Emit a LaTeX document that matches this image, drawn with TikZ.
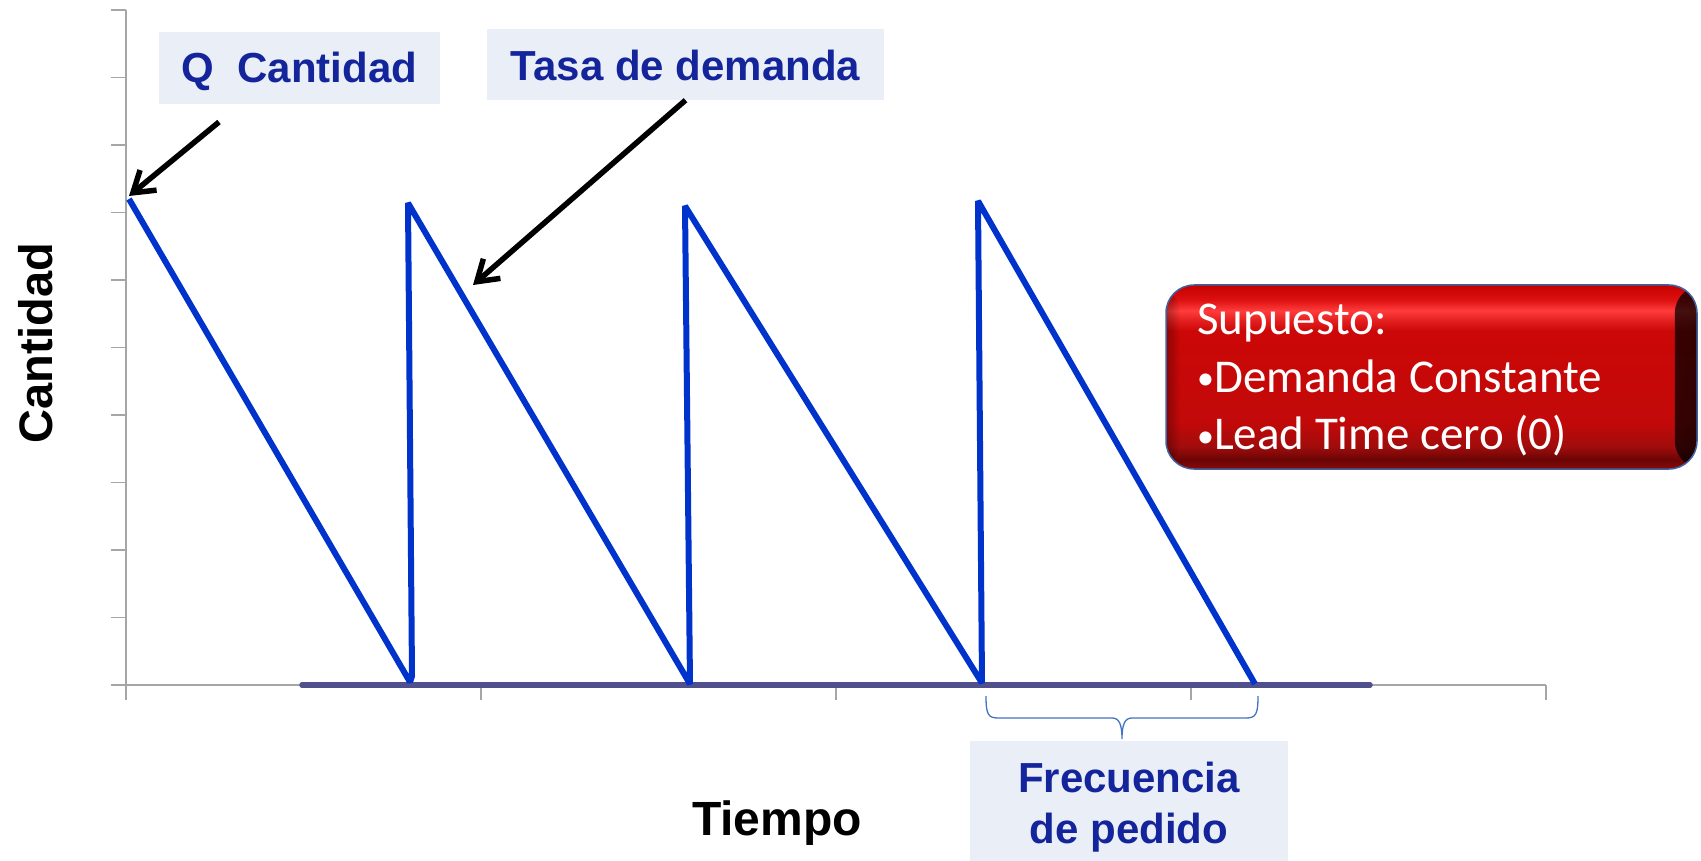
\documentclass[tikz,border=0pt]{standalone}
\usepackage{fontspec}
\newfontfamily\lsans{Liberation Sans}
\newfontfamily\carl{Carlito}
\usetikzlibrary{arrows.meta,fadings}
\definecolor{lblue}{HTML}{14249A}
\definecolor{lfill}{HTML}{E9EEF7}
\definecolor{saw}{HTML}{0033CC}
\definecolor{axisgray}{HTML}{A6A6A6}
\definecolor{baseln}{HTML}{50508C}
\definecolor{bracecol}{HTML}{4472C4}
\definecolor{boxborder}{HTML}{3F63A0}
\definecolor{rbA}{HTML}{8A0A0A}
\definecolor{rbB}{HTML}{6A0505}
\definecolor{rbC}{HTML}{A00C0C}
\definecolor{rbD}{HTML}{C20909}
\definecolor{rbE}{HTML}{CC0707}
\definecolor{rbF}{HTML}{E52020}
\definecolor{rbG}{HTML}{FF3C3C}
\definecolor{rbH}{HTML}{DD1010}
\definecolor{rbI}{HTML}{C40000}
\pgfdeclareverticalshading{redbevel}{100bp}{color(0bp)=(rbA); color(25bp)=(rbA); color(27.5bp)=(rbB); color(31bp)=(rbC); color(37.5bp)=(rbD); color(62.5bp)=(rbE); color(65.5bp)=(rbF); color(68bp)=(rbG); color(71bp)=(rbH); color(75bp)=(rbI); color(100bp)=(rbI)}
\tikzfading[name=fadeleft, left color=transparent!100, right color=transparent!0]
\tikzfading[name=faderight, left color=transparent!0, right color=transparent!100]
\newcommand{\smbul}{\raisebox{2.5pt}{\fontsize{34}{40}\selectfont •}}
\begin{document}
\begin{tikzpicture}[x=1pt,y=-1pt,
  axis/.style={draw=axisgray, line width=1.5pt},
  lblbox/.style={fill=lfill, inner sep=0pt, text=lblue, font=\lsans\bfseries\fontsize{42}{51}\selectfont, text depth=0pt},
  lbltext/.style={inner sep=0pt, text=lblue, font=\lsans\bfseries\fontsize{42}{51}\selectfont, align=center},
  arr/.style={-{Straight Barb[length=20pt,width=26pt]}, line width=5.5pt, black},
  sawline/.style={draw=saw, line width=6pt, line join=bevel},
  axlabel/.style={inner sep=0pt, text=black, font=\lsans\bfseries}
]
\useasboundingbox (0,0) rectangle (1701,861);

% axes
\draw[axis] (126,10) -- (126,700);
\foreach \k in {0,...,9} { \draw[axis] (111,10+67.5*\k) -- (126,10+67.5*\k); }
\draw[axis] (111,685) -- (1546,685);
\foreach \xx in {126,481,836,1191,1546} { \draw[axis] (\xx,685) -- (\xx,700); }
\draw[baseln, line width=5.5pt, line cap=round] (302,685) -- (1370,685);

% sawtooth
\coordinate (p1) at (129,199);
\coordinate (b1) at (410,682);
\coordinate (b1v) at (412,676);
\coordinate (p2) at (408,203);
\coordinate (b2) at (690,684);
\coordinate (p3) at (685,206);
\coordinate (b3) at (982,683);
\coordinate (p4) at (978,201);
\coordinate (b4) at (1255,684);
\draw[sawline] (p1) -- (b1) -- (b1v) -- (p2) -- (b2) -- (p3) -- (b3) -- (p4) -- (b4);

% labels
\node[lblbox, minimum width=281pt, minimum height=72pt, text height=30pt] (qlab) at (299.5,68) {Q\ \ Cantidad};
\node[lblbox, minimum width=397pt, minimum height=71pt, text height=33pt] (tasa) at (685.5,64.5) {Tasa de demanda};
\node[fill=lfill, inner sep=0pt, minimum width=318pt, minimum height=120pt] (frecbox) at (1129,801) {};
\node[lbltext] (frec) at (1129,807) {Frecuencia\\de pedido};

% arrows
\coordinate (qs) at (219,122);
\coordinate (qtip) at (129,196);
\coordinate (ttip) at (473,285);
\draw[arr] (qs) -- (qtip);
\draw[arr] (tasa.south) -- (ttip);

% brace
\draw[bracecol, line width=1.3pt] (986,696) .. controls (986,714) and (988,718) .. (998,718) -- (1112,718) .. controls (1119,718) and (1122,724) .. (1122,739) .. controls (1122,724) and (1125,718) .. (1132,718) -- (1246,718) .. controls (1256,718) and (1258,714) .. (1258,696);

% axis titles
\node[axlabel, font=\lsans\bfseries\fontsize{48}{58}\selectfont, anchor=base] (tiempo) at (777,835) {Tiempo};
\node[axlabel, font=\lsans\bfseries\fontsize{47}{56}\selectfont, rotate=90, anchor=base] (cant) at (52,343) {Cantidad};

% red box
\node[draw=boxborder, line width=1.5pt, rounded corners=28pt, minimum width=531pt, minimum height=184pt, shading=redbevel, inner sep=0pt,
  path picture={
    \fill[black, path fading=fadeleft, fill opacity=0.75] ([xshift=-22pt]path picture bounding box.north east) rectangle (path picture bounding box.south east);
    \fill[black, path fading=faderight, fill opacity=0.3] (path picture bounding box.north west) rectangle ([xshift=14pt]path picture bounding box.south west);
  }] (sup) at (1431.5,377) {};
\node[anchor=north west, inner sep=0pt, align=left, text=white, font=\carl\fontsize{47}{57.5}\selectfont] (suptext) at (1197,304) {Supuesto:\\\smbul Demanda Constante\\\smbul Lead Time cero (0)};
\end{tikzpicture}
\end{document}
